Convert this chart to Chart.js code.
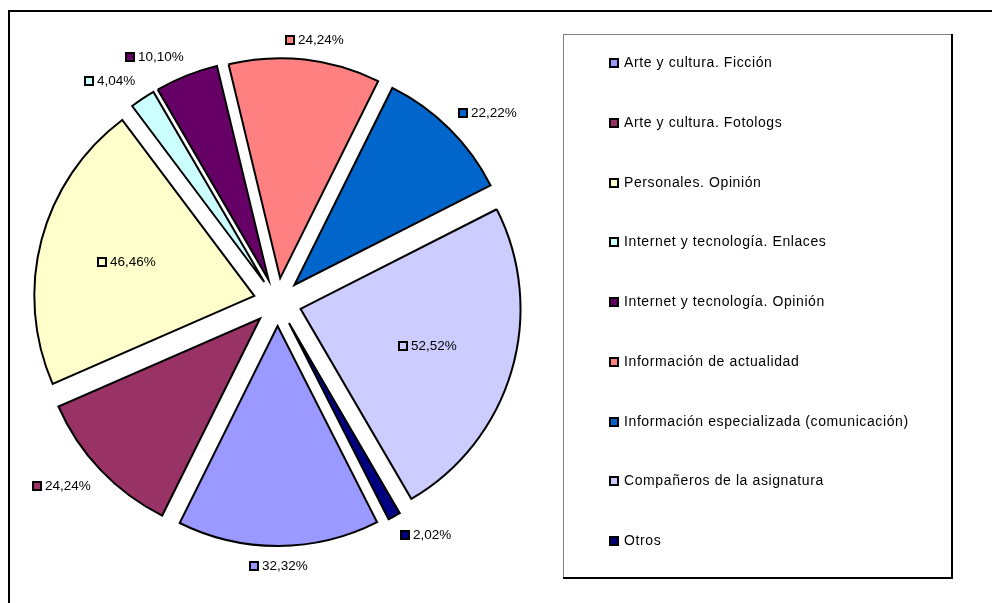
<!DOCTYPE html>
<html><head><meta charset="utf-8">
<script src="https://cdn.jsdelivr.net/npm/chart.js@4/dist/chart.umd.min.js"></script>
<style>html,body{margin:0;padding:0;background:#fff;} canvas{display:block;}</style>
</head><body>
<canvas id="c" width="992" height="603"></canvas>
<script>
const categories = ['Arte y cultura. Ficción', 'Arte y cultura. Fotologs', 'Personales. Opinión', 'Internet y tecnología. Enlaces', 'Internet y tecnología. Opinión', 'Información de actualidad', 'Información especializada (comunicación)', 'Compañeros de la asignatura', 'Otros'];
const percentages = [32.32, 24.24, 46.46, 4.04, 10.10, 24.24, 22.22, 52.52, 2.02];
const sliceColors = ['#9999FF', '#993366', '#FFFFCC', '#CCFFFF', '#660066', '#FF8080', '#0066CC', '#CCCCFF', '#000080'];

const EXPLODE = 24;
const origArcDraw = Chart.ArcElement.prototype.draw;
Chart.ArcElement.prototype.draw = function (ctx) {
  const h = (this.startAngle + this.endAngle) / 2;
  ctx.save();
  ctx.translate(Math.cos(h) * EXPLODE, Math.sin(h) * EXPLODE);
  origArcDraw.call(this, ctx);
  ctx.restore();
};

const fmt = v => v.toFixed(2).replace('.', ',') + '%';

const framePlugin = {
  id: 'frame',
  beforeDraw(chart) {
    const ctx = chart.ctx;
    ctx.save();
    ctx.fillStyle = '#fff';
    ctx.fillRect(0, 0, chart.width, chart.height);
    ctx.fillStyle = '#000';
    ctx.fillRect(8, 10, 2, chart.height - 10);
    ctx.fillRect(8, 10, chart.width - 8, 2);
    ctx.restore();
  }
};

const labelPlugin = {
  id: 'sliceLabels',
  afterDatasetsDraw(chart) {
    const ctx = chart.ctx;
    const meta = chart.getDatasetMeta(0);
    ctx.save();
    ctx.font = '13.5px "Liberation Sans", Arial, sans-serif';
    ctx.textBaseline = 'middle';
    meta.data.forEach((arc, i) => {
      const p = arc.getProps(['startAngle', 'endAngle', 'outerRadius', 'x', 'y'], true);
      const mid = (p.startAngle + p.endAngle) / 2;
      const dx = Math.cos(mid), dy = Math.sin(mid);
      const cx = p.x + dx * EXPLODE, cy = p.y + dy * EXPLODE;
      const text = fmt(percentages[i]);
      const tw = ctx.measureText(text).width;
      const bw = 10 + 3 + tw, bh = 14;
      let lx, ly;
      if (p.endAngle - p.startAngle > Math.PI / 3) {
        lx = cx + dx * p.outerRadius * 0.6;
        ly = cy + dy * p.outerRadius * 0.6;
      } else {
        const px = cx + dx * (p.outerRadius + 13), py = cy + dy * (p.outerRadius + 13);
        const cl = v => Math.max(-1, Math.min(1, v));
        lx = px + cl(dx * 2.5) * bw / 2;
        ly = py + cl(dy * 2.5) * bh / 2;
      }
      const left = Math.round(lx - bw / 2);
      const my = Math.round(ly);
      ctx.fillStyle = sliceColors[i];
      ctx.fillRect(left, my - 5, 10, 10);
      ctx.strokeStyle = '#000';
      ctx.lineWidth = 2;
      ctx.strokeRect(left + 1, my - 4, 8, 8);
      ctx.fillStyle = '#000';
      ctx.fillText(text, left + 13, my);
    });
    ctx.restore();
  }
};

const legendPlugin = {
  id: 'boxLegend',
  afterDraw(chart) {
    const ctx = chart.ctx;
    ctx.save();
    ctx.strokeStyle = '#808080';
    ctx.lineWidth = 1;
    ctx.strokeRect(563.5, 34.5, 388, 543);
    ctx.fillStyle = '#000';
    ctx.fillRect(951, 34, 2, 545);
    ctx.fillRect(563, 577, 390, 2);
    ctx.font = '14px "Liberation Sans", Arial, sans-serif';
    if ('letterSpacing' in ctx) ctx.letterSpacing = '0.6px';
    ctx.textBaseline = 'middle';
    categories.forEach((name, i) => {
      const y = Math.round(63 + i * 59.75);
      ctx.fillStyle = sliceColors[i];
      ctx.fillRect(609, y - 5, 10, 10);
      ctx.strokeStyle = '#000';
      ctx.lineWidth = 2;
      ctx.strokeRect(610, y - 4, 8, 8);
      ctx.fillStyle = '#000';
      ctx.fillText(name, 624, y);
    });
    ctx.restore();
  }
};

new Chart(document.getElementById('c'), {
  type: 'pie',
  data: {
    labels: categories,
    datasets: [{
      data: percentages,
      backgroundColor: sliceColors,
      borderColor: '#000',
      borderWidth: 2,
      borderJoinStyle: 'miter'
    }]
  },
  options: {
    responsive: false,
    animation: false,
    events: [],
    rotation: 153.1,
    radius: 220,
    layout: { padding: { left: 30, right: 467, top: 52, bottom: 51 } },
    plugins: { legend: { display: false }, tooltip: { enabled: false } }
  },
  plugins: [framePlugin, labelPlugin, legendPlugin]
});
</script>
</body></html>
